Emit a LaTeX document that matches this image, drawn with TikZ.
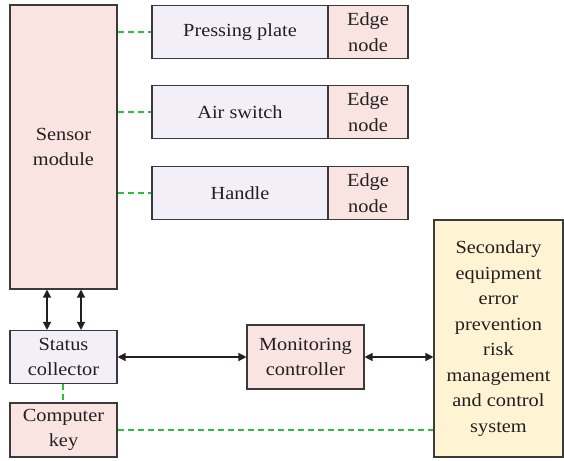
\documentclass[tikz,border=0pt]{standalone}
\usepackage{fontspec}
\setmainfont[FakeStretch=1.1]{Liberation Serif}
\usetikzlibrary{arrows.meta}
\definecolor{pinkfill}{HTML}{F9E4E2}
\definecolor{lavfill}{HTML}{F3EFF8}
\definecolor{yelfill}{HTML}{FEF3D3}
\definecolor{framecol}{HTML}{3A3A3A}
\definecolor{txtcol}{HTML}{231F20}
\definecolor{linkgreen}{HTML}{2DBE3C}
\tikzset{
  block/.style={draw=framecol, line width=1.1pt, text=txtcol, align=center,
    inner sep=0pt, font=\fontsize{18.5}{25.5}\selectfont},
  pinkbox/.style={block, fill=pinkfill},
  lavbox/.style={block, fill=lavfill},
  yelbox/.style={block, fill=yelfill},
  link/.style={draw=linkgreen, line width=1.3pt, dash pattern=on 6pt off 4pt},
  twoway/.style={draw=txtcol, line width=1.3pt,
    {Triangle[length=8pt,width=8pt]}-{Triangle[length=8pt,width=8pt]}}
}
\begin{document}
\begin{tikzpicture}[x=1pt,y=-1pt]
\useasboundingbox (0,0) rectangle (564,460);

% sensor column
\node[pinkbox, minimum width=107pt, minimum height=284pt] (sensor) at (63.5,147) {Sensor\\module};

% monitored devices with their edge nodes
\node[lavbox, minimum width=176pt, minimum height=53.5pt] (press) at (240,32) {Pressing plate};
\node[pinkbox, minimum width=80pt, minimum height=53.5pt] (pressedge) at (368,32) {Edge\\node};
\node[lavbox, minimum width=176pt, minimum height=53.5pt] (air) at (240,112) {Air switch};
\node[pinkbox, minimum width=80pt, minimum height=53.5pt] (airedge) at (368,112) {Edge\\node};
\node[lavbox, minimum width=176pt, minimum height=53.5pt] (handle) at (240,193) {Handle};
\node[pinkbox, minimum width=80pt, minimum height=53.5pt] (handleedge) at (368,193) {Edge\\node};

% lower row
\node[lavbox, minimum width=107pt, minimum height=53pt] (status) at (63.5,357) {Status\\collector};
\node[pinkbox, minimum width=107pt, minimum height=54pt] (key) at (63.5,430) {Computer\\key};
\node[pinkbox, minimum width=117pt, minimum height=64pt] (monitor) at (305.5,357) {Monitoring\\controller};
\node[yelbox, minimum width=129pt, minimum height=237pt] (system) at (498.5,338.5)
  {Secondary\\equipment\\error\\prevention\\risk\\management\\and control\\system};

% dashed links from the sensor module
\draw[link] (sensor.east |- press.west) -- (press.west);
\draw[link] (sensor.east |- air.west) -- (air.west);
\draw[link] (sensor.east |- handle.west) -- (handle.west);

% sensor <-> status collector
\draw[twoway] (sensor.south -| 47,0) -- (status.north -| 47,0);
\draw[twoway] (sensor.south -| 81,0) -- (status.north -| 81,0);

% status collector <-> monitoring controller <-> system
\draw[twoway] (status.east) -- (monitor.west);
\draw[twoway] (monitor.east) -- (monitor.east -| system.west);

% computer key links
\draw[link] ([xshift=-0.5pt]status.south) -- ([xshift=-0.5pt]key.north);
\draw[link] (key.east) -- (key.east -| system.west);
\end{tikzpicture}
\end{document}
